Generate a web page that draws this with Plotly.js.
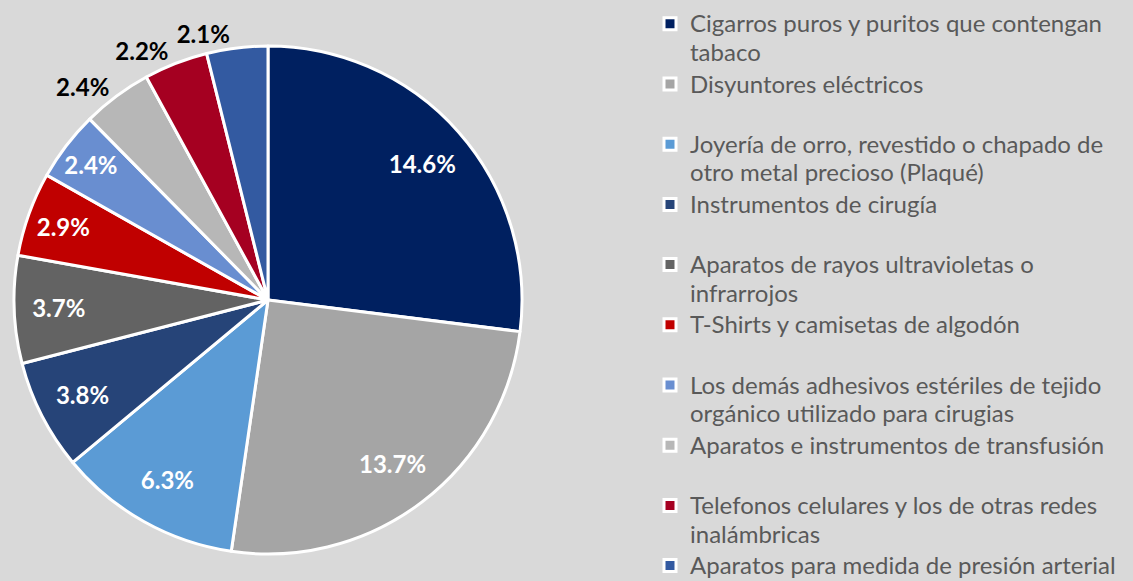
<!DOCTYPE html>
<html>
<head>
<meta charset="utf-8">
<script src="https://cdn.plot.ly/plotly-3.0.1.min.js"></script>
<style>
  html, body { margin: 0; padding: 0; background: #D9D9D9; }
  #chart { width: 1133px; height: 581px; }
  .scrollbar { display: none; }
</style>
</head>
<body>
<div id="chart"></div>
<script>
const categories = [
  "Cigarros puros y puritos que contengan<br>tabaco",
  "Disyuntores eléctricos<br>&nbsp;",
  "Joyería de orro, revestido o chapado de<br>otro metal precioso (Plaqué)",
  "Instrumentos de cirugía<br>&nbsp;",
  "Aparatos de rayos ultravioletas o<br>infrarrojos",
  "T-Shirts y camisetas de algodón<br>&nbsp;",
  "Los demás adhesivos estériles de tejido<br>orgánico utilizado para cirugias",
  "Aparatos e instrumentos de transfusión<br>&nbsp;",
  "Telefonos celulares y los de otras redes<br>inalámbricas",
  "Aparatos para medida de presión arterial"
];
const shares = [14.6, 13.7, 6.3, 3.8, 3.7, 2.9, 2.4, 2.4, 2.2, 2.1];
const colors = ["#002060", "#A5A5A5", "#5B9BD5", "#264478", "#636363",
                "#C00000", "#698ED0", "#B7B7B7", "#A50021", "#335AA1"];
// which labels sit inside the slice (true) or outside it (false)
const labelInside = [true, true, true, true, true, true, true, false, false, false];

const W = 1133, H = 581;
const mTop = 3;
const Hp = H - mTop;
const cx = 268, cy = 300, r = 254;
const cyPlot = cy - mTop;
const domain = {
  x: [(cx - r) / W, (cx + r) / W],
  y: [(Hp - cyPlot - r) / Hp, (Hp - cyPlot + r) / Hp]
};

// legend labels rendered a little larger than the legend line pitch font
const legendLabels = categories.map(c =>
  c.split("<br>").map(p => '<span style="font-size:24px">' + p + '</span>').join("<br>"));

const base = {
  type: "pie",
  values: shares,
  labels: legendLabels,
  sort: false,
  direction: "clockwise",
  rotation: 0,
  hoverinfo: "none",
  domain: domain
};

// main coloured pie
const mainPie = Object.assign({}, base, {
  marker: { colors: colors, line: { color: "#FFFFFF", width: 3 } },
  textinfo: "none",
  showlegend: true
});

const clear = shares.map(() => "rgba(0,0,0,0)");

// transparent ring carrying the inside labels (pushes them towards the rim)
const insideLabels = Object.assign({}, base, {
  hole: 0.62,
  marker: { colors: clear, line: { width: 0 } },
  texttemplate: "%{value:.1f}%",
  textposition: labelInside.map(v => v ? "inside" : "none"),
  insidetextorientation: "horizontal",
  insidetextfont: { family: "Lato", size: 24, color: "#FFFFFF", weight: 700 },
  showlegend: false
});

// outside labels, one per transparent layer so they are not pushed apart
const outsideTraces = [];
labelInside.forEach((inside, i) => {
  if (inside) return;
  outsideTraces.push(Object.assign({}, base, {
    marker: { colors: clear, line: { width: 0 } },
    texttemplate: "%{value:.1f}%",
    textposition: shares.map((_, j) => j === i ? "outside" : "none"),
    outsidetextfont: { family: "Lato", size: 24, color: "#000000", weight: 700 },
    showlegend: false
  }));
});

const layout = {
  width: W,
  height: H,
  margin: { l: 0, r: 0, t: mTop, b: 0 },
  paper_bgcolor: "#D9D9D9",
  plot_bgcolor: "#D9D9D9",
  showlegend: true,
  legend: {
    x: 650 / W,
    y: 1,
    xanchor: "left",
    yanchor: "top",
    valign: "top",
    bgcolor: "rgba(0,0,0,0)",
    borderwidth: 0,
    font: { family: "Lato", size: 22, color: "#595959" }
  }
};

Plotly.newPlot("chart", [mainPie, insideLabels].concat(outsideTraces), layout,
  { displayModeBar: false, staticPlot: true });
</script>
</body>
</html>
